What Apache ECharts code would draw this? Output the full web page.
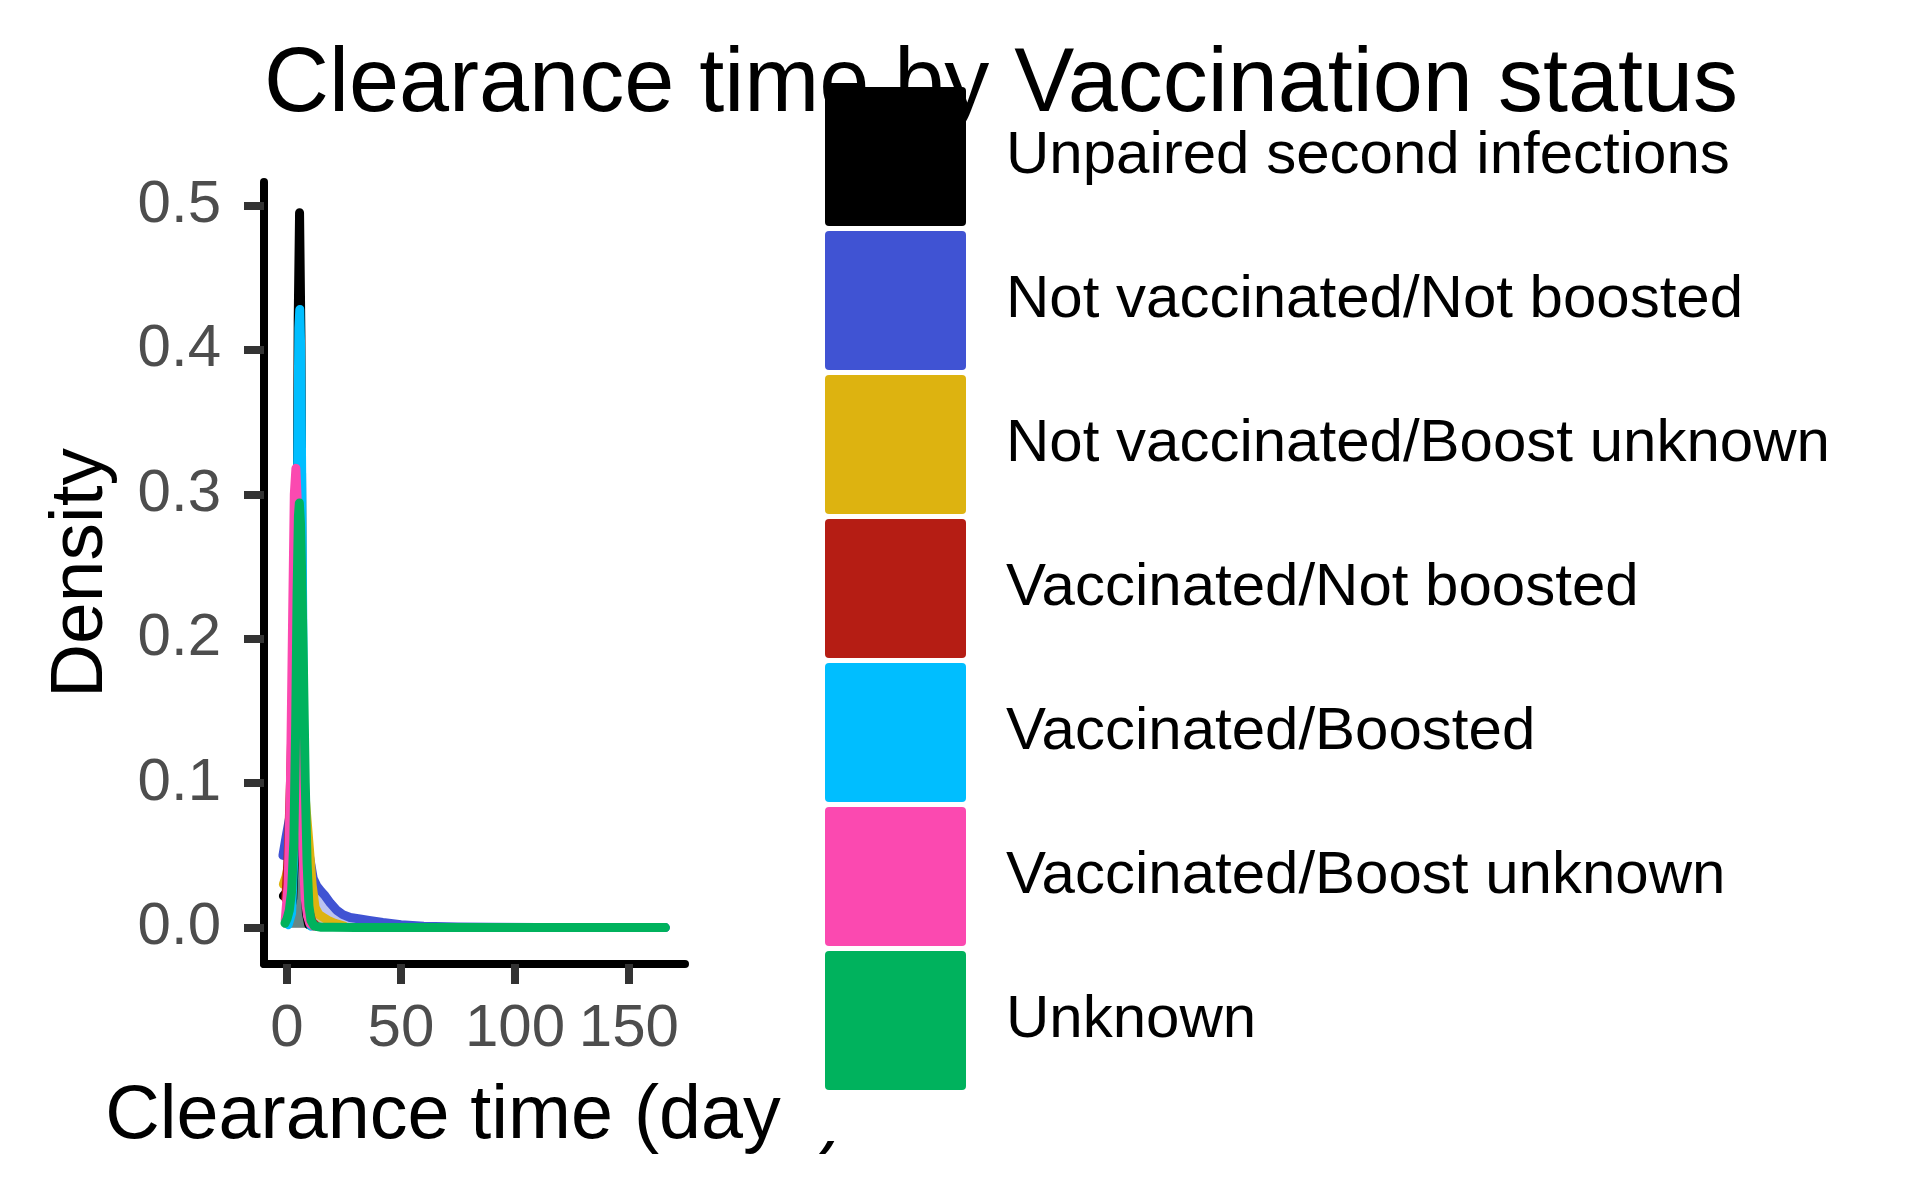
<!DOCTYPE html>
<html>
<head>
<meta charset="utf-8">
<title>Clearance time by Vaccination status</title>
<script src="https://cdn.jsdelivr.net/npm/echarts@6/dist/echarts.min.js"></script>
<style>
html, body { margin: 0; padding: 0; background: #fff; }
#main { width: 1920px; height: 1200px; }
</style>
</head>
<body>
<div id="main"></div>
<script>
var groups = ['Unpaired second infections', 'Not vaccinated/Not boosted', 'Not vaccinated/Boost unknown',
    'Vaccinated/Not boosted', 'Vaccinated/Boosted', 'Vaccinated/Boost unknown', 'Unknown'];
var colors = ['#000000', '#4053d3', '#ddb310', '#b51d14', '#00beff', '#fb49b0', '#00b25d'];

// density curves (x = days, y = density)
var unpairedX = [-1.6, -0.5, 0.5, 1.5, 2.5, 3.5, 4.3, 4.9, 5.5, 6.1, 6.7, 7.5, 8.5, 9.5];
var unpairedY = [0.022, 0.024, 0.02, 0.012, 0.02, 0.06, 0.22, 0.42, 0.495, 0.41, 0.2, 0.05, 0.01, 0.002];

var notVaxNotBoostX = [-1.8, -0.5, 1, 2.5, 4, 5.5, 7, 8.5, 10, 11.5, 13, 15, 16.7, 19, 21.8, 24.5, 27.7, 32, 36,
    42, 50, 60, 75, 90, 110, 130, 150, 166];
var notVaxNotBoostY = [0.05, 0.062, 0.075, 0.085, 0.09, 0.088, 0.078, 0.063, 0.048, 0.034, 0.029, 0.025, 0.022,
    0.017, 0.012, 0.009, 0.007, 0.006, 0.005, 0.0035, 0.002, 0.001, 0.0004, 0.0002, 0.0001, 0.0001, 0, 0];

var notVaxUnknownX = [-1.6, -0.5, 1, 2.5, 3.5, 4.5, 5.5, 6.5, 7.5, 8.5, 9.8, 11, 12.3, 14, 16, 18, 21, 25];
var notVaxUnknownY = [0.03, 0.035, 0.045, 0.06, 0.09, 0.12, 0.13, 0.12, 0.1, 0.08, 0.055, 0.03, 0.014, 0.009,
    0.007, 0.005, 0.003, 0.001];

var vaxNotBoostX = [-0.5, 0.5, 1.5, 2.5, 3.5, 4.5, 5.5, 6.5, 7.5, 8.5, 9.5, 11, 13];
var vaxNotBoostY = [0.02, 0.05, 0.1, 0.16, 0.2, 0.21, 0.19, 0.13, 0.07, 0.03, 0.012, 0.004, 0.001];

var vaxBoostX = [0.5, 2, 3, 4, 4.7, 5.2, 5.6, 6, 6.5, 7.2, 8, 9, 10.5];
var vaxBoostY = [0.002, 0.01, 0.05, 0.18, 0.33, 0.415, 0.428, 0.4, 0.3, 0.15, 0.05, 0.01, 0.001];

var vaxUnknownX = [-0.8, 0.5, 1.5, 2.5, 3.2, 3.9, 4.6, 5.4, 6.2, 7, 8, 9, 10, 11.5];
var vaxUnknownY = [0.005, 0.03, 0.1, 0.22, 0.3, 0.318, 0.29, 0.2, 0.11, 0.05, 0.02, 0.008, 0.003, 0.001];

var unknownX = [-0.9, 0, 1, 2, 3, 3.8, 4.4, 5, 5.4, 5.9, 6.5, 7.2, 8, 8.8, 9.6, 10.5, 12, 15, 20, 30, 50, 80, 120, 166];
var unknownY = [0.003, 0.006, 0.012, 0.025, 0.06, 0.14, 0.23, 0.285, 0.294, 0.28, 0.24, 0.18, 0.1, 0.045, 0.015,
    0.005, 0.001, 0.0003, 0.0002, 0.0001, 0.0001, 0.0001, 0.0001, 0];

var xTicks = [0, 50, 100, 150];
var yTicks = [0, 0.1, 0.2, 0.3, 0.4, 0.5];

var curves = [
    [unpairedX, unpairedY], [notVaxNotBoostX, notVaxNotBoostY], [notVaxUnknownX, notVaxUnknownY],
    [vaxNotBoostX, vaxNotBoostY], [vaxBoostX, vaxBoostY], [vaxUnknownX, vaxUnknownY], [unknownX, unknownY]
];

var font = '"Liberation Sans", Arial, Helvetica, sans-serif';

var series = groups.map(function(name, i) {
    var xs = curves[i][0], ys = curves[i][1];
    return {
	name : name,
	type : 'line',
	data : xs.map(function(x, j) { return [ x, ys[j] ]; }),
	symbol : 'none',
	silent : true,
	itemStyle : { color : colors[i] },
	lineStyle : { color : colors[i], width : 9, cap : 'round', join : 'round' },
	areaStyle : { color : colors[i], opacity : 0.35 }
    };
});

var myChart = echarts.init(document.getElementById('main'));
myChart.setOption({
    animation : false,
    backgroundColor : '#fff',
    textStyle : { fontFamily : font },
    title : {
	text : 'Clearance time by Vaccination status',
	left : 1001,
	top : 41,
	padding : 0,
	textAlign : 'center',
	z : 0,
	textStyle : { fontSize : 90, fontWeight : 'normal', color : '#000', fontFamily : font }
    },
    legend : {
	orient : 'vertical',
	left : 825,
	top : 87,
	padding : 0,
	itemWidth : 141,
	itemHeight : 139,
	itemGap : 5,
	icon : 'path://M4,0H137A4,4,0,0,1,141,4V135A4,4,0,0,1,137,139H4A4,4,0,0,1,0,135V4A4,4,0,0,1,4,0Z',
	itemStyle : { borderWidth : 0 },
	selectedMode : false,
	z : 10,
	textStyle : { fontSize : 60, color : '#000', fontFamily : font, padding : [ 26, 0, 0, 35 ] },
	data : groups
    },
    grid : { left : 264, top : 182, width : 421, height : 782, containLabel : false },
    xAxis : {
	type : 'value',
	min : -10.1,
	max : 174.6,
	name : 'Clearance time (days)',
	nameLocation : 'middle',
	nameGap : 115,
	nameTextStyle : { fontSize : 75.5, color : '#000', fontFamily : font },
	axisLine : { show : true, onZero : false, lineStyle : { color : '#000', width : 8 } },
	axisTick : { show : true, length : 20, customValues : xTicks, lineStyle : { color : '#333', width : 8 } },
	axisLabel : { customValues : xTicks, margin : 35, fontSize : 60, color : '#4d4d4d', fontFamily : font },
	splitLine : { show : false }
    },
    yAxis : {
	type : 'value',
	min : -0.0252,
	max : 0.5163,
	name : 'Density',
	nameLocation : 'middle',
	nameRotate : 90,
	nameGap : 145,
	nameTextStyle : { fontSize : 75, color : '#000', fontFamily : font },
	axisLine : { show : true, onZero : false, lineStyle : { color : '#000', width : 8 } },
	axisTick : { show : true, length : 20, customValues : yTicks, lineStyle : { color : '#333', width : 8 } },
	axisLabel : {
	    customValues : yTicks,
	    margin : 43,
	    fontSize : 60,
	    color : '#4d4d4d',
	    fontFamily : font,
	    formatter : function(v) { return v.toFixed(1); }
	},
	splitLine : { show : false }
    },
    // the legend box hides the end of the x axis title in the original
    graphic : [ {
	type : 'rect',
	z : 5,
	shape : { x : 782, y : 1040, width : 70, height : 101 },
	style : { fill : '#fff' }
    } ],
    series : series
});
</script>
</body>
</html>
